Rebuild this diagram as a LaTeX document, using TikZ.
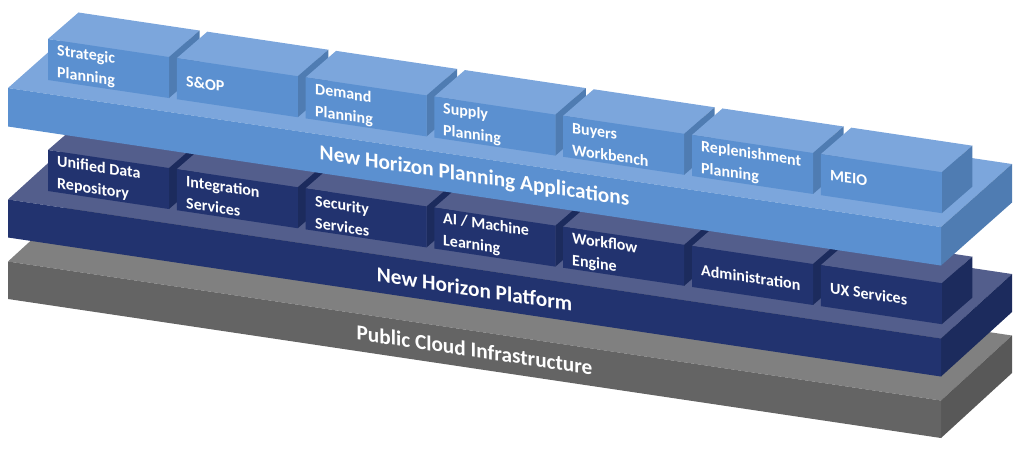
\documentclass[tikz,border=0pt]{standalone}
\usepackage{fontspec}
\setmainfont{Carlito}
\definecolor{bf}{HTML}{5B90D0}\definecolor{bt}{HTML}{7CA6DC}\definecolor{bs}{HTML}{4F7CB2}
\definecolor{nf}{HTML}{22336F}\definecolor{nt}{HTML}{535E8C}\definecolor{ns}{HTML}{1C2B5D}
\definecolor{gf}{HTML}{646464}\definecolor{gt}{HTML}{808080}\definecolor{gs}{HTML}{585858}
\tikzset{
  x=1pt,y=-1pt,
  boxlabel/.style={text=white,font=\bfseries\fontsize{16}{22}\selectfont,align=left,anchor=west,inner sep=0pt,yslant=-0.149},
  slablabel/.style={text=white,font=\bfseries\fontsize{21.3}{25}\selectfont,anchor=center,inner sep=0pt,yslant=-0.149},
}
% #1 x, #2 top y, #3 width, #4 height, #5 dx, #6 dy, #7 colour prefix
\newcommand{\solid}[7]{%
  \pgfmathsetmacro{\yr}{#2+0.149*#3}%
  \fill[#7t] (#1,#2) -- (#1+#3,\yr) -- (#1+#3+#5,\yr+#6) -- (#1+#5,#2+#6) -- cycle;
  \fill[#7s] (#1+#3,\yr) -- (#1+#3+#5,\yr+#6) -- (#1+#3+#5,\yr+#6+#4) -- (#1+#3,\yr+#4) -- cycle;
  \fill[#7f] (#1,#2) -- (#1+#3,\yr) -- (#1+#3,\yr+#4) -- (#1,#2+#4) -- cycle;
}
\newcommand{\rowboxes}[2]{% #1 y offset of first box, #2 colour
  \foreach \i in {0,...,6}{%
    \pgfmathsetmacro{\bxx}{48+128.8*\i}%
    \pgfmathsetmacro{\byy}{#1+0.149*128.8*\i}%
    \solid{\bxx}{\byy}{121}{41}{30.5}{-26.5}{#2}%
  }%
}
\begin{document}
\begin{tikzpicture}
\useasboundingbox (0,0) rectangle (1024,449);
\solid{8}{261.5}{933}{37.5}{71}{-65}{g}
\solid{8}{199.5}{933}{38}{71}{-64.5}{n}
\rowboxes{150}{n}
\solid{8}{88}{933}{38.5}{71}{-63}{b}
\rowboxes{39}{b}
\node[boxlabel] (p1) at (57,62) {Strategic\\Planning};
\node[boxlabel] (p2) at (186,81) {S\&OP};
\node[boxlabel] (p3) at (315,101) {Demand\\Planning};
\node[boxlabel] (p4) at (443,120) {Supply\\Planning};
\node[boxlabel] (p5) at (572,139) {Buyers\\Workbench};
\node[boxlabel] (p6) at (701,158) {Replenishment\\Planning};
\node[boxlabel] (p7) at (830,175) {MEIO};
\node[boxlabel] (q1) at (57,173) {Unified Data\\Repository};
\node[boxlabel] (q2) at (186,192) {Integration\\Services};
\node[boxlabel] (q3) at (315,212) {Security\\Services};
\node[boxlabel] (q4) at (443,230) {AI / Machine\\Learning};
\node[boxlabel] (q5) at (572,250) {Workflow\\Engine};
\node[boxlabel] (q6) at (701,270) {Administration};
\node[boxlabel] (q7) at (830,288) {UX Services};
\node[slablabel] (a) at (474.5,177) {New Horizon Planning Applications};
\node[slablabel] (b) at (474.5,289) {New Horizon Platform};
\node[slablabel] (c) at (474.5,350) {Public Cloud Infrastructure};
\end{tikzpicture}
\end{document}
